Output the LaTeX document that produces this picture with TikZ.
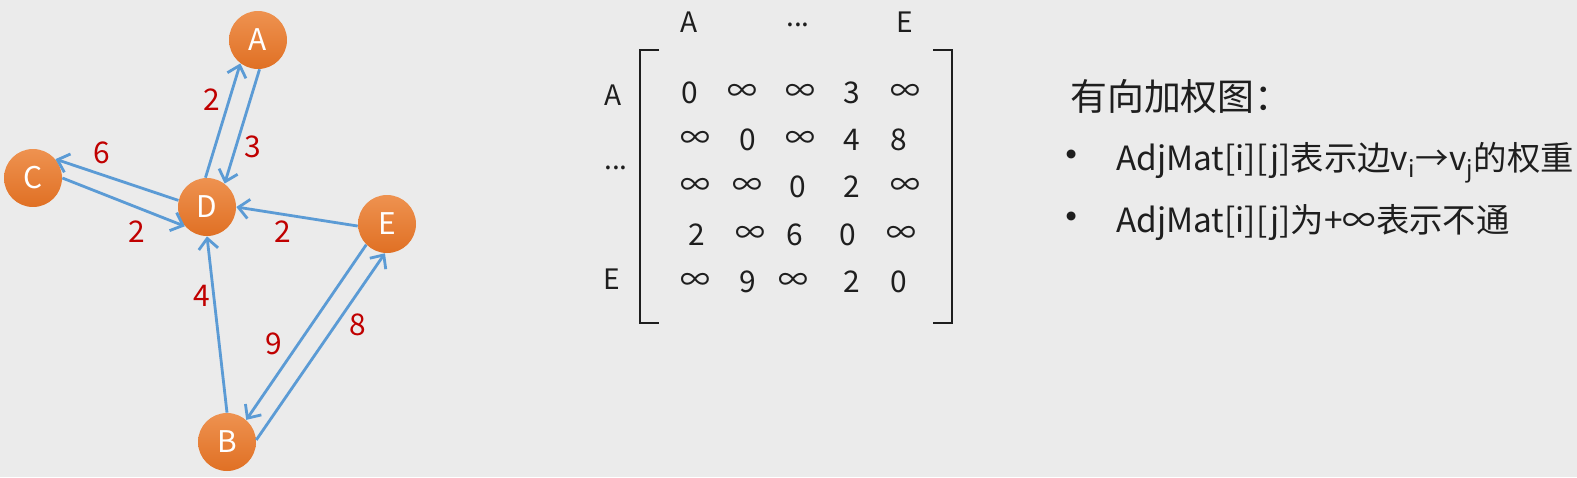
\documentclass[tikz,border=0pt]{standalone}
\usepackage{fontspec}
\setmainfont{Noto Sans CJK SC}
\usetikzlibrary{arrows.meta}
\definecolor{bgGray}{RGB}{235,235,235}
\definecolor{nodeTop}{RGB}{238,146,80}
\definecolor{nodeBot}{RGB}{224,112,36}
\definecolor{edgeBlue}{RGB}{91,155,213}
\definecolor{wtRed}{RGB}{192,0,0}
\definecolor{txtGray}{RGB}{30,30,30}

\begin{document}
\begin{tikzpicture}[x=0.02cm,y=-0.02cm,
    vertex/.style={circle,minimum size=1.16cm,inner sep=0pt,
      top color=nodeTop,bottom color=nodeBot,text=white,
      font=\fontsize{17}{20}\selectfont},
    edge/.style={draw=edgeBlue,line width=1.6pt,
      -{Straight Barb[length=6pt,width=11pt,line width=1.6pt]}},
    weight/.style={text=wtRed,font=\fontsize{17}{20}\selectfont},
    entry/.style={text=txtGray,font=\fontsize{17}{20}\selectfont},
    head/.style={text=txtGray,font=\fontsize{16}{19}\selectfont},
    brk/.style={draw=txtGray,line width=1.5pt,line join=miter}]
      \fill[bgGray] (0,0) rectangle (1577,477);
      \useasboundingbox (0,0) rectangle (1577,477);

      % the graph
      \node[vertex] (A) at (258,40)  {A};
      \node[vertex] (C) at (33,178)  {C};
      \node[vertex] (D) at (207,207) {D};
      \node[vertex] (E) at (387,224) {E};
      \node[vertex] (B) at (227,442) {B};

      \draw[edge] (D.93)  -- (A.233);
      \draw[edge] (A.273) -- (D.53);
      \draw[edge] (D.167) -- (C.40);
      \draw[edge] (C.0)   -- (D.221);
      \draw[edge] (E.184) -- (D.0);
      \draw[edge] (B.90)  -- (D.270);
      \draw[edge] (E.225) -- (B.49);
      \draw[edge] (B.4)   -- (E.266);

      \node[weight] (wDA) at (212,100) {2};
      \node[weight] (wAD) at (253,147) {3};
      \node[weight] (wDC) at (102,153) {6};
      \node[weight] (wCD) at (137,232) {2};
      \node[weight] (wED) at (283,232) {2};
      \node[weight] (wBD) at (202,296) {4};
      \node[weight] (wEB) at (274,344) {9};
      \node[weight] (wBE) at (358,325) {8};

      % the matrix
      \draw[brk] (659,50) -- (640,50) -- (640,323) -- (659,323);
      \draw[brk] (933,50) -- (952,50) -- (952,323) -- (933,323);

      \node[head] (cA) at (689,22) {A};
      \node[head] (cM) at (798,25) {...};
      \node[head] (cE) at (905,22) {E};
      \node[head] (rA) at (613,95) {A};
      \node[head] (rM) at (616,168) {...};
      \node[head] (rE) at (612,279) {E};

      \foreach \x/\y/\t [count=\k] in {
        690/93/0, 742/93/∞, 800/93/∞, 852/93/3, 905/93/∞,
        695/140/∞, 748/140/0, 800/140/∞, 852/140/4, 899/140/8,
        695/187/∞, 747/187/∞, 798/187/0, 852/187/2, 905/187/∞,
        697/235/2, 750/235/∞, 795/235/6, 848/235/0, 901/235/∞,
        695/282/∞, 748/282/9, 793/282/∞, 852/282/2, 899/282/0}
      \node[entry] (m\k) at (\x,\y) {\t};

      % the notes
      \node[anchor=west,text=txtGray,font=\fontsize{21}{25}\selectfont]
        (title) at (1064,97) {有向加权图：};
      \node[text=txtGray,font=\fontsize{24}{28}\selectfont] (b1) at (1072,160) {•};
      \node[text=txtGray,font=\fontsize{24}{28}\selectfont] (b2) at (1072,222) {•};
      \node[anchor=base west,text=txtGray,font=\fontsize{19}{23}\selectfont]
        (t1) at (1110,170) {AdjMat[i][j]表示边v\textsubscript{i}→v\textsubscript{j}的权重};
      \node[anchor=base west,text=txtGray,font=\fontsize{19}{23}\selectfont]
        (t2) at (1110,232) {AdjMat[i][j]为+∞表示不通};
\end{tikzpicture}
\end{document}
